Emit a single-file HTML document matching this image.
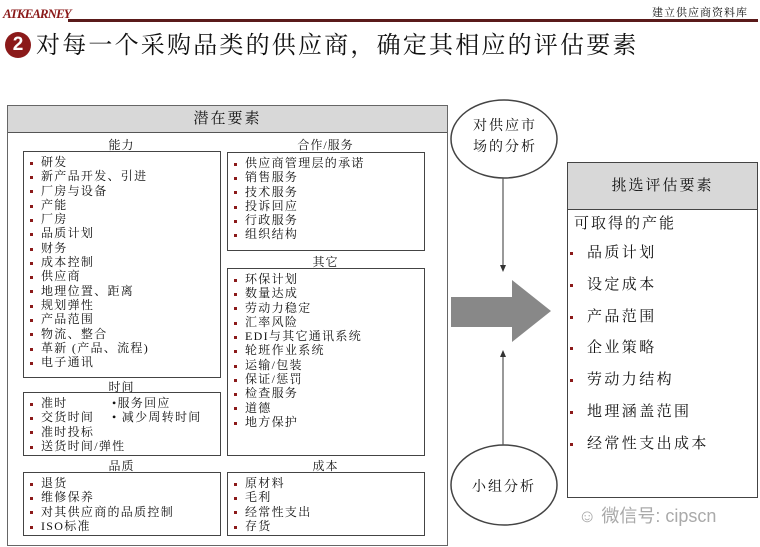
<!DOCTYPE html>
<html><head><meta charset="utf-8"><style>
*{margin:0;padding:0;box-sizing:border-box}
body{width:760px;height:547px;background:#fff;position:relative;overflow:hidden;font-family:"Liberation Serif","Noto Serif CJK SC",serif;color:#111}
.a{position:absolute}
.box{position:absolute;border:1.5px solid #444;background:#fff}
.lbl{position:absolute;font-size:12px;text-align:center;width:197px;line-height:14px;letter-spacing:1px}
ul{list-style:none;padding:3px 0 0 6px;font-size:12px;letter-spacing:1.3px}
li{height:14.3px;line-height:14.3px;white-space:nowrap;overflow:visible;position:relative}
li:before{content:"";display:inline-block;width:3px;height:3px;background:#8b1a1a;margin-right:8px;vertical-align:middle}
.r li{font-size:15px;height:31.8px;line-height:31.8px;letter-spacing:2.4px}
.r li:before{margin-right:14px}
</style></head><body>
<div class="a" style="left:3px;top:6px;font:italic bold 13px 'Liberation Serif',serif;color:#8b1a1a;letter-spacing:-1px">ATKEARNEY</div>
<div class="a" style="left:68px;top:19px;width:690px;height:3px;background:#5a1a1a"></div>
<div class="a" style="left:652px;top:4px;font-size:11px;letter-spacing:1px">建立供应商资料库</div>
<div class="a" style="left:5px;top:32px;width:26px;height:26px;border-radius:50%;background:#8b1a1a;color:#fff;font:bold 19px 'Liberation Sans',sans-serif;text-align:center;line-height:26px">2</div>
<div class="a" style="left:36px;top:31px;font-size:24px;line-height:30px;letter-spacing:2.2px">对每一个采购品类的供应商，确定其相应的评估要素</div>

<div class="box" style="left:7px;top:105px;width:441px;height:441px;border-color:#666"></div>
<div class="a" style="left:8px;top:106px;width:439px;height:27px;background:#d8d8d8;border-bottom:1.5px solid #555;text-align:center;font-size:15px;line-height:27px;letter-spacing:2px">潜在要素</div>

<div class="lbl" style="left:23px;top:138px">能力</div>
<div class="box" style="left:23px;top:151px;width:198px;height:227px"><ul><li>研发</li><li>新产品开发、引进</li><li>厂房与设备</li><li>产能</li><li>厂房</li><li>品质计划</li><li>财务</li><li>成本控制</li><li>供应商</li><li>地理位置、距离</li><li>规划弹性</li><li>产品范围</li><li>物流、整合</li><li>革新 (产品、流程)</li><li>电子通讯</li></ul></div>

<div class="lbl" style="left:227px;top:138px">合作/服务</div>
<div class="box" style="left:227px;top:152px;width:198px;height:99px"><ul><li>供应商管理层的承诺</li><li>销售服务</li><li>技术服务</li><li>投诉回应</li><li>行政服务</li><li>组织结构</li></ul></div>

<div class="lbl" style="left:227px;top:255px">其它</div>
<div class="box" style="left:227px;top:268px;width:198px;height:188px"><ul><li>环保计划</li><li>数量达成</li><li>劳动力稳定</li><li>汇率风险</li><li>EDI与其它通讯系统</li><li>轮班作业系统</li><li>运输/包装</li><li>保证/惩罚</li><li>检查服务</li><li>道德</li><li>地方保护</li></ul></div>

<div class="lbl" style="left:23px;top:380px">时间</div>
<div class="box" style="left:23px;top:392px;width:198px;height:64px"><ul><li>准时<span style="position:absolute;left:82px">•服务回应</span></li><li>交货时间<span style="position:absolute;left:82px">• 减少周转时间</span></li><li>准时投标</li><li>送货时间/弹性</li></ul></div>

<div class="lbl" style="left:23px;top:459px">品质</div>
<div class="box" style="left:23px;top:472px;width:198px;height:64px"><ul><li>退货</li><li>维修保养</li><li>对其供应商的品质控制</li><li>ISO标准</li></ul></div>

<div class="lbl" style="left:227px;top:459px">成本</div>
<div class="box" style="left:227px;top:472px;width:198px;height:64px"><ul><li>原材料</li><li>毛利</li><li>经常性支出</li><li>存货</li></ul></div>

<svg class="a" style="left:0;top:0" width="760" height="547">
<ellipse cx="504" cy="139" rx="53" ry="39" fill="#fff" stroke="#444" stroke-width="1.5"/>
<ellipse cx="504" cy="485" rx="53" ry="40" fill="#fff" stroke="#444" stroke-width="1.5"/>
<line x1="503" y1="178" x2="503" y2="268" stroke="#555" stroke-width="1.2"/>
<polygon points="500,265 506,265 503,272" fill="#333"/>
<line x1="503" y1="445" x2="503" y2="354" stroke="#555" stroke-width="1.2"/>
<polygon points="500,357 506,357 503,350" fill="#333"/>
<polygon points="451,297 512,297 512,280 551,311 512,342 512,327 451,327" fill="#888"/>
</svg>
<div class="a" style="left:468px;top:116px;font-size:14px;line-height:21px;width:74px;text-align:center;letter-spacing:2px">对供应市场的分析</div>
<div class="a" style="left:463px;top:476px;font-size:14px;width:82px;text-align:center;letter-spacing:2px">小组分析</div>

<div class="box" style="left:567px;top:162px;width:191px;height:336px"></div>
<div class="a" style="left:568px;top:163px;width:189px;height:47px;background:#d8d8d8;border-bottom:1.5px solid #444;text-align:center;font-size:15px;line-height:47px;letter-spacing:2px">挑选评估要素</div>
<div class="a" style="left:574px;top:212px;font-size:15px;letter-spacing:2px">可取得的产能</div>
<ul class="a r" style="left:570px;top:238px;padding:0"><li>品质计划</li><li>设定成本</li><li>产品范围</li><li>企业策略</li><li>劳动力结构</li><li>地理涵盖范围</li><li>经常性支出成本</li></ul>
<div class="a" style="left:578px;top:502px;font:18px 'Liberation Sans','Noto Sans CJK SC',sans-serif;color:#aaa">☺ 微信号: cipscn</div>
</body></html>
